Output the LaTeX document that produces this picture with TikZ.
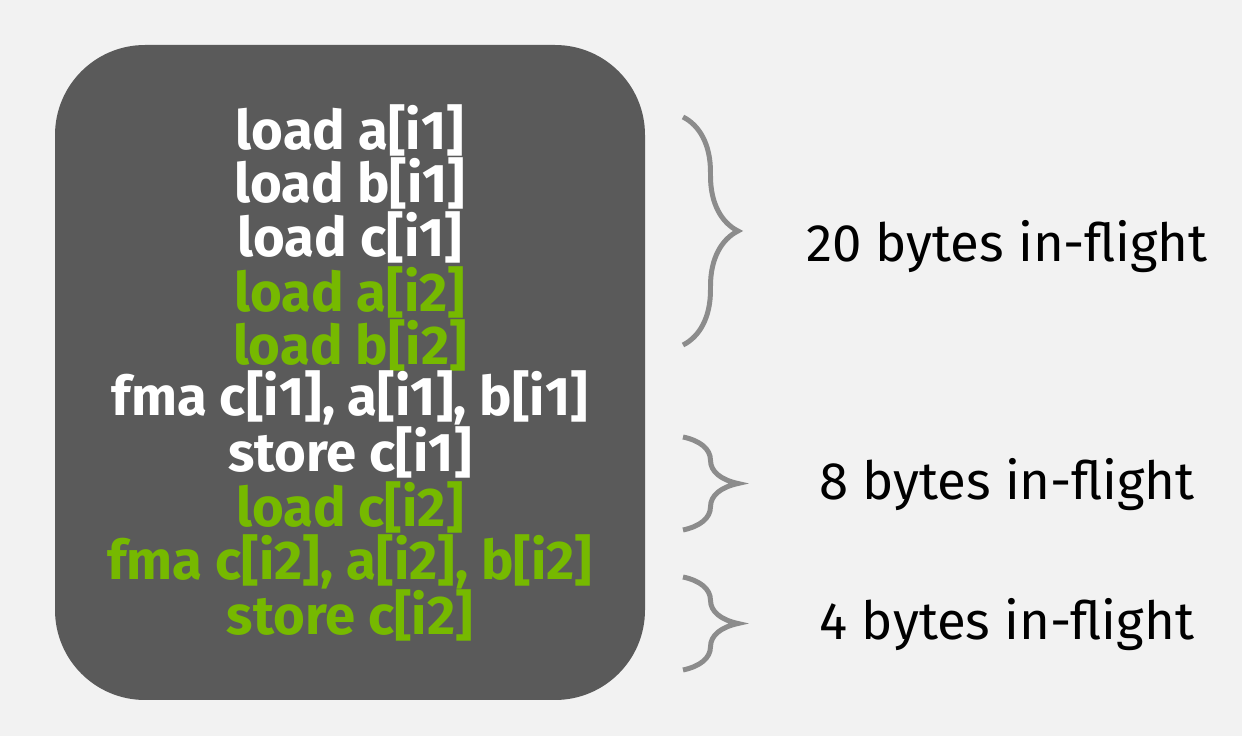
\documentclass[tikz,border=0pt]{standalone}
\usepackage{fontspec}
\setmainfont{Fira Sans}
\usetikzlibrary{decorations.pathreplacing}
\definecolor{slidebg}{RGB}{242,242,242}
\definecolor{boxgray}{RGB}{90,90,90}
\definecolor{nvgreen}{RGB}{118,185,0}
\definecolor{bracegray}{RGB}{140,140,140}
\tikzset{
  code/.style={font=\fontsize{31}{36}\selectfont\bfseries,text=white,anchor=center},
  gcode/.style={code,text=nvgreen},
  bytes/.style={font=\fontsize{30}{36}\selectfont,text=black,anchor=center},
  bracket/.style={draw=bracegray,line width=1mm,decorate,decoration={brace,amplitude=1.1cm,aspect=0.5}}
}
\begin{document}
\begin{tikzpicture}[x=0.02cm,y=-0.02cm]
  \fill[slidebg] (0,0) rectangle (1242,736);
  \useasboundingbox (0,0) rectangle (1242,736);
  \fill[boxgray,rounded corners=1.8cm] (55,45) rectangle (645,700);

  \node[code] (l1) at (350,130) {load a[i1]};
  \node[code] (l2) at (350,183) {load b[i1]};
  \node[code] (l3) at (350,237) {load c[i1]};
  \node[gcode] (l4) at (350,292) {load a[i2]};
  \node[gcode] (l5) at (350,345) {load b[i2]};
  \node[code] (l6) at (350,398) {fma c[i1], a[i1], b[i1]};
  \node[code] (l7) at (350,452) {store c[i1]};
  \node[gcode] (l8) at (350,507) {load c[i2]};
  \node[gcode] (l9) at (350,562) {fma c[i2], a[i2], b[i2]};
  \node[gcode] (l10) at (350,615) {store c[i2]};

  % braces
  \draw[bracket] (683,117) -- (683,345);
  \draw[bracket] (683,437) -- (683,530);
  \draw[bracket] (683,577) -- (683,670);

  \node[bytes] (b1) at (1007,247) {20 bytes in-flight};
  \node[bytes] (b2) at (1007,485) {8 bytes in-flight};
  \node[bytes] (b3) at (1007,625) {4 bytes in-flight};
\end{tikzpicture}
\end{document}
